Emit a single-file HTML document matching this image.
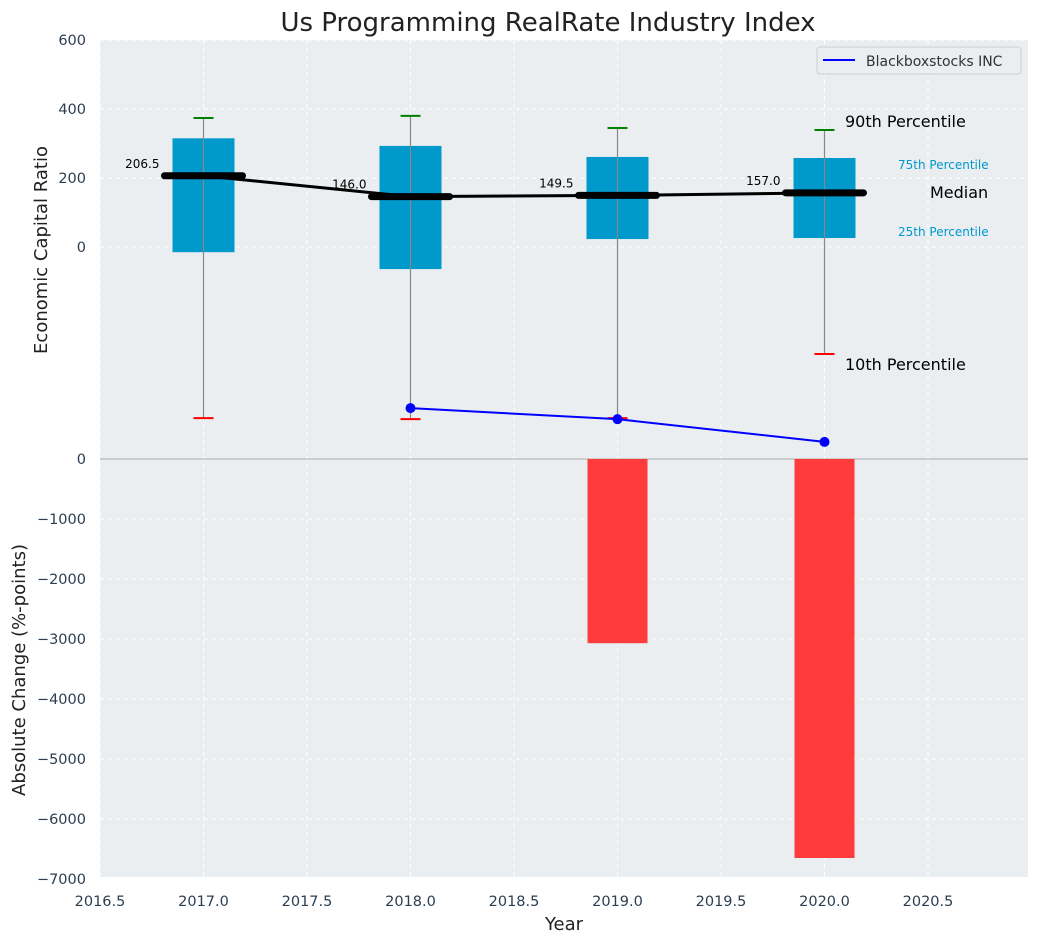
<!DOCTYPE html>
<html><head><meta charset="utf-8"><style>
body{margin:0;background:#fff;}
svg{display:block;font-family:"DejaVu Sans","Liberation Sans",sans-serif;}
</style></head><body>
<svg id="chart" width="1039" height="942"></svg>
<script>
const years=[2017,2018,2019,2020];
const p10=[-496,-499,-496,-310];
const q1=[-15,-64,23,26];
const medians=[206.5,146.0,149.5,157.0];
const q3=[315,293,261,258];
const p90=[374,380,345,339];
const lineYears=[2018,2019,2020];
const lineVals=[-467,-499,-565];
const barYears=[2019,2020];
const barVals=[-3070,-6650];
const xTicks=[2016.5,2017.0,2017.5,2018.0,2018.5,2019.0,2019.5,2020.0,2020.5];
const yTopTicks=[600,400,200,0];
const yBotTicks=[0,-1000,-2000,-3000,-4000,-5000,-6000,-7000];

const L=100,R=1028,T=40,MID=459,B=877;
const X=v=>L+(v-2016.5)*207;
const YT=v=>247-v*69/200;
function yb(v){return MID+(-v)*60/1000;}
const s=document.getElementById('chart');
const NS='http://www.w3.org/2000/svg';
function el(t,a,txt){const e=document.createElementNS(NS,t);for(const k in a)e.setAttribute(k,a[k]);if(txt!==undefined)e.textContent=txt;s.appendChild(e);return e;}

let e;
e=el('rect',{x:L,y:T,width:R-L,height:B-T,fill:'#eaeef0'});


xTicks.forEach(t=>{e=el('line',{x1:X(t),x2:X(t),y1:T,y2:B,stroke:'#fff','stroke-dasharray':'4,4','stroke-width':1});

});
yTopTicks.forEach(t=>{e=el('line',{x1:L,x2:R,y1:YT(t),y2:YT(t),stroke:'#fff','stroke-dasharray':'4,4'});

});
yBotTicks.forEach(t=>{e=el('line',{x1:L,x2:R,y1:yb(t),y2:yb(t),stroke:'#fff','stroke-dasharray':'4,4'});

});
e=el('line',{x1:L,x2:R,y1:MID,y2:MID,stroke:'#aaa','stroke-width':1});



barYears.forEach((y,i)=>{const y0=yb(0),y1=yb(barVals[i]);
e=el('rect',{x:X(y)-30,y:y0,width:60,height:y1-y0,fill:'#ff3b3b'});

});

years.forEach((y,i)=>{const cx=X(y);
e=el('rect',{x:cx-31,y:YT(q3[i]),width:62,height:YT(q1[i])-YT(q3[i]),fill:'#0099cc'});


e=el('line',{x1:cx,x2:cx,y1:YT(p90[i]),y2:YT(p10[i]),stroke:'#888','stroke-width':1.2});


e=el('line',{x1:cx-10,x2:cx+10,y1:YT(p90[i]),y2:YT(p90[i]),stroke:'green','stroke-width':2});


e=el('line',{x1:cx-10,x2:cx+10,y1:YT(p10[i]),y2:YT(p10[i]),stroke:'red','stroke-width':2});


});
e=el('polyline',{points:years.map((y,i)=>X(y)+','+YT(medians[i])).join(' '),fill:'none',stroke:'#000','stroke-width':3});


years.forEach((y,i)=>{const cx=X(y);
e=el('line',{x1:cx-39,x2:cx+39,y1:YT(medians[i]),y2:YT(medians[i]),stroke:'#000','stroke-width':7,'stroke-linecap':'round'});


e=el('text',{x:cx-44,y:YT(medians[i])-8,'font-size':12,'text-anchor':'end',fill:'#000'},medians[i].toFixed(1));


});
e=el('polyline',{points:lineYears.map((y,i)=>X(y)+','+YT(lineVals[i])).join(' '),fill:'none',stroke:'blue','stroke-width':2});


lineYears.forEach((y,i)=>{e=el('circle',{cx:X(y),cy:YT(lineVals[i]),r:5,fill:'blue'});

});

const ann=[[845,127,'90th Percentile',16,'#000'],[898,169,'75th Percentile',12,'#0099cc'],[930,198,'Median',16,'#000'],[898,236,'25th Percentile',12,'#0099cc'],[845,370,'10th Percentile',16,'#000']];
ann.forEach(a=>{e=el('text',{x:a[0],y:a[1],'font-size':a[3],fill:a[4]},a[2]);

});

xTicks.forEach(t=>{e=el('text',{x:X(t),y:906,'font-size':14.5,'text-anchor':'middle',fill:'#2c3e50'},t.toFixed(1));

});
yTopTicks.forEach(t=>{e=el('text',{x:86,y:YT(t)+5,'font-size':14.5,'text-anchor':'end',fill:'#2c3e50'},t);

});
yBotTicks.forEach(t=>{e=el('text',{x:86,y:yb(t)+5,'font-size':14.5,'text-anchor':'end',fill:'#2c3e50'},t<0?'\u2212'+(-t):t);

});

e=el('text',{x:548,y:31,'font-size':26,'text-anchor':'middle',fill:'#222'},'Us Programming RealRate Industry Index');


e=el('text',{x:564,y:930,'font-size':18,'text-anchor':'middle',fill:'#222'},'Year');


e=el('text',{x:47,y:250,'font-size':18,'text-anchor':'middle',fill:'#222',transform:'rotate(-90 47 250)'},'Economic Capital Ratio');


e=el('text',{x:25,y:670,'font-size':18,'text-anchor':'middle',fill:'#222',transform:'rotate(-90 25 670)'},'Absolute Change (%-points)');



e=el('rect',{x:817,y:47,width:204,height:27,rx:3,fill:'#eaeef0',stroke:'#ccc'});


e=el('line',{x1:823,x2:855,y1:60,y2:60,stroke:'blue','stroke-width':2});


e=el('text',{x:866,y:66,'font-size':14,fill:'#333'},'Blackboxstocks INC');


</script>
</body></html>
